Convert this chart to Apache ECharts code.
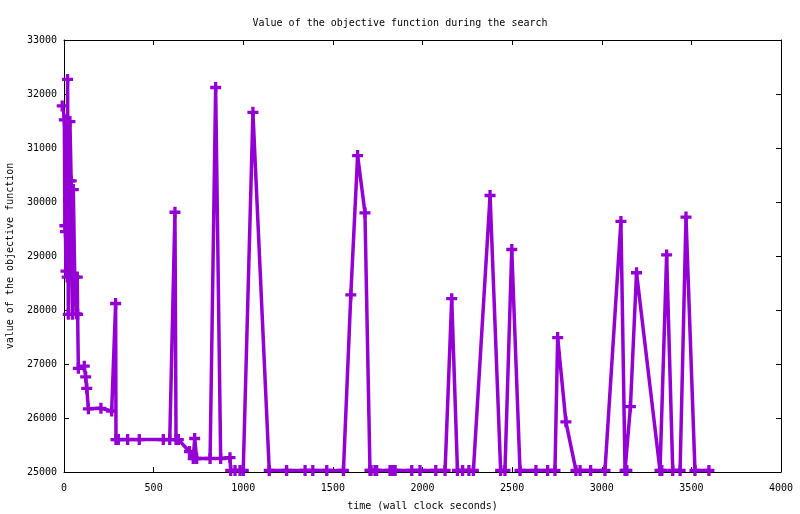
<!DOCTYPE html>
<html>
<head>
<meta charset="utf-8">
<script src="https://cdn.jsdelivr.net/npm/echarts@6/dist/echarts.min.js"></script>
<style>
  html, body { margin: 0; padding: 0; background: #fff; }
  #search { width: 800px; height: 514px; }
</style>
</head>
<body>
<div id="search"></div>
<script>
// wall clock seconds and objective value
var times = [-10, 2, 5, 8, 11, 18, 20, 24, 30, 33, 40, 47, 52, 60, 69, 74, 76, 80,
  113, 121, 127, 136, 206, 266, 288, 290, 303, 355, 420, 554, 590, 619, 625, 638,
  700, 721, 729, 740, 815, 846, 874, 926, 930, 954, 982, 1000, 1054, 1145, 1242,
  1345, 1388, 1466, 1559, 1600, 1638, 1679, 1707, 1713, 1735, 1744, 1819, 1834,
  1847, 1940, 1986, 2074, 2126, 2163, 2195, 2224, 2259, 2284, 2377, 2436, 2460,
  2498, 2544, 2633, 2698, 2739, 2754, 2800, 2856, 2879, 2938, 3018, 3107, 3130,
  3140, 3160, 3194, 3325, 3335, 3362, 3396, 3437, 3470, 3520, 3598];
var values = [31780, 31520, 29560, 29450, 28720, 28610, 32270, 27920, 30390, 31490,
  30390, 27920, 30230, 28610, 27930, 28610, 27920, 26920,
  26960, 26760, 26550, 26170, 26180, 26130, 28120, 25600, 25600, 25600, 25600,
  25600, 25600, 29810, 25600, 25600,
  25380, 25250, 25620, 25250, 25250, 32120, 25250, 25265, 25030, 25030, 25030,
  25030, 31660, 25030, 25030,
  25030, 25030, 25030, 25030, 28280, 30860, 29800, 25030, 25030, 25030, 25030,
  25030, 25030,
  25030, 25030, 25030, 25030, 25030, 28210, 25030, 25030, 25030, 25030, 30120,
  25030, 25030,
  29120, 25030, 25030, 25030, 25030, 27490, 25930, 25030, 25030, 25030, 25030,
  29640, 25030,
  25030, 26210, 28690, 25030, 25030, 29020, 25030, 25030, 29720, 25030, 25030];
var xTicks = { min: 0, max: 4000, interval: 500 };
var yTicks = { min: 25000, max: 33000, interval: 1000 };

var points = times.map(function(t, i) { return [t, values[i]]; });

var dom = document.getElementById("search");
var searchChart = echarts.init(dom);

var mono = 'DejaVu Sans Mono';
var plus = 'path://M3.5,0H6.5V3.5H10V6.5H6.5V10H3.5V6.5H0V3.5H3.5Z';

function frameAxis(ticks, pos, show) {
    return {
        type: 'value',
        position: pos,
        min: ticks.min,
        max: ticks.max,
        interval: ticks.interval,
        axisLine: { show: true, onZero: false, lineStyle: { color: '#000', width: 1 } },
        axisTick: { show: true, inside: true, length: 5, lineStyle: { color: '#000' } },
        axisLabel: {
            show: show, color: '#000', fontFamily: mono, fontSize: 10,
            formatter: function(v) { return String(v); }
        },
        splitLine: { show: false }
    };
}

var xMain = frameAxis(xTicks, 'bottom', true);
xMain.axisLabel.margin = 11;
xMain.name = 'time (wall clock seconds)';
xMain.nameLocation = 'middle';
xMain.nameGap = 29;
xMain.nameTextStyle = { color: '#000', fontFamily: mono, fontSize: 10 };

var yMain = frameAxis(yTicks, 'left', true);
yMain.axisLabel.margin = 7;
yMain.name = 'value of the objective function';
yMain.nameLocation = 'middle';
yMain.nameGap = 49;
yMain.nameTextStyle = { color: '#000', fontFamily: mono, fontSize: 10 };

var option = {
    animation: false,
    backgroundColor: '#fff',
    title: {
        text: 'Value of the objective function during the search',
        left: 'center',
        top: 13,
        textStyle: { color: '#000', fontFamily: mono, fontSize: 10, fontWeight: 'normal' }
    },
    grid: { left: 64, right: 19, top: 40, bottom: 42, containLabel: false, outerBoundsMode: 'none' },
    xAxis: [xMain, frameAxis(xTicks, 'top', false)],
    yAxis: [yMain, frameAxis(yTicks, 'right', false)],
    series: [
        {
            type: 'line',
            data: points,
            clip: false,
            showAllSymbol: true,
            symbol: plus,
            symbolSize: 11,
            color: '#9400D3',
            itemStyle: { color: '#9400D3' },
            lineStyle: { color: '#9400D3', width: 3.5 }
        }
    ]
};

searchChart.setOption(option, true);

window.addEventListener('resize', function() {
    searchChart.resize();
});
</script>
</body>
</html>
